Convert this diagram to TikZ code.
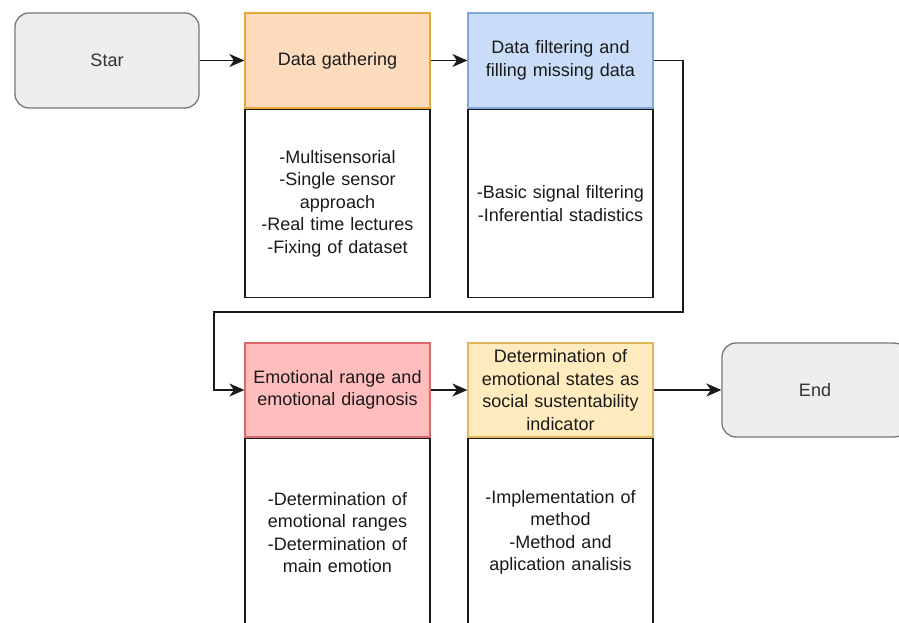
\documentclass[tikz,border=0pt]{standalone}
\usepackage{fontspec}
\setmainfont{Liberation Sans}
\usetikzlibrary{arrows.meta}

\definecolor{termfill}{HTML}{EEEEEE}
\definecolor{termline}{HTML}{777777}
\definecolor{termtext}{HTML}{333333}
\definecolor{orfill}{HTML}{FDDCBE}
\definecolor{orline}{HTML}{E8A83C}
\definecolor{blfill}{HTML}{C9DDF8}
\definecolor{blline}{HTML}{7EA6D8}
\definecolor{rdfill}{HTML}{FFBDBD}
\definecolor{rdline}{HTML}{D86A6A}
\definecolor{ylfill}{HTML}{FFEBBE}
\definecolor{ylline}{HTML}{E2B85C}
\definecolor{ink}{HTML}{1A1A1A}

\tikzset{
  txt/.style={font=\fontsize{18}{22.5}\selectfont, align=center, text=ink, inner sep=2pt},
  terminal/.style={txt, text=termtext, draw=termline, fill=termfill, line width=1.3pt,
    rounded corners=14pt, minimum width=184pt, minimum height=95pt},
  header/.style={txt, line width=1.2pt, minimum width=185pt, minimum height=95pt, text width=180pt},
  bodybox/.style={txt, draw=ink, line width=1.5pt, fill=white, minimum width=185pt, minimum height=188pt, text width=180pt},
  conn/.style={draw=ink, line width=1.5pt, -{Stealth[length=15pt, width=13pt, inset=4.5pt]}}
}

\begin{document}
\begin{tikzpicture}[x=1pt, y=-1pt]
\useasboundingbox (0,0) rectangle (899,623);

% top row
\node[terminal] (start) at (107,60.5) {Star};
\node[header, draw=orline, fill=orfill] (gath) at (337.5,60.5) {Data gathering};
\node[bodybox, anchor=north] (gathb) at (gath.south) {-Multisensorial\\-Single sensor\\approach\\-Real time lectures\\-Fixing of dataset};
\node[header, draw=blline, fill=blfill] (filt) at (560.5,60.5) {Data filtering and\\filling missing data};
\node[bodybox, anchor=north] (filtb) at (filt.south) {-Basic signal filtering\\-Inferential stadistics};

% bottom row
\node[header, draw=rdline, fill=rdfill, minimum height=94pt] (emo) at (337.5,390) {Emotional range and\\emotional diagnosis};
\node[bodybox, anchor=north] (emob) at (emo.south) {-Determination of\\emotional ranges\\-Determination of\\main emotion};
\node[header, draw=ylline, fill=ylfill, minimum height=94pt] (det) at (560.5,390) {Determination of\\emotional states as\\social sustentability\\indicator};
\node[bodybox, anchor=north] (detb) at (det.south) {-Implementation of\\method\\-Method and\\aplication analisis};
\node[terminal, minimum width=186pt, minimum height=94pt] (end) at (815,390) {End};

% routing points of the return connector
\coordinate (bendR) at (683,312);
\coordinate (bendL) at (214,312);

% connectors
\draw[conn] (start.east) -- (gath.west);
\draw[conn] (gath.east) -- (filt.west);
\draw[conn] (filt.east) -| (bendR) -- (bendL) |- (emo.west);
\draw[conn] (emo.east) -- (det.west);
\draw[conn] (det.east) -- (end.west);
\end{tikzpicture}
\end{document}
